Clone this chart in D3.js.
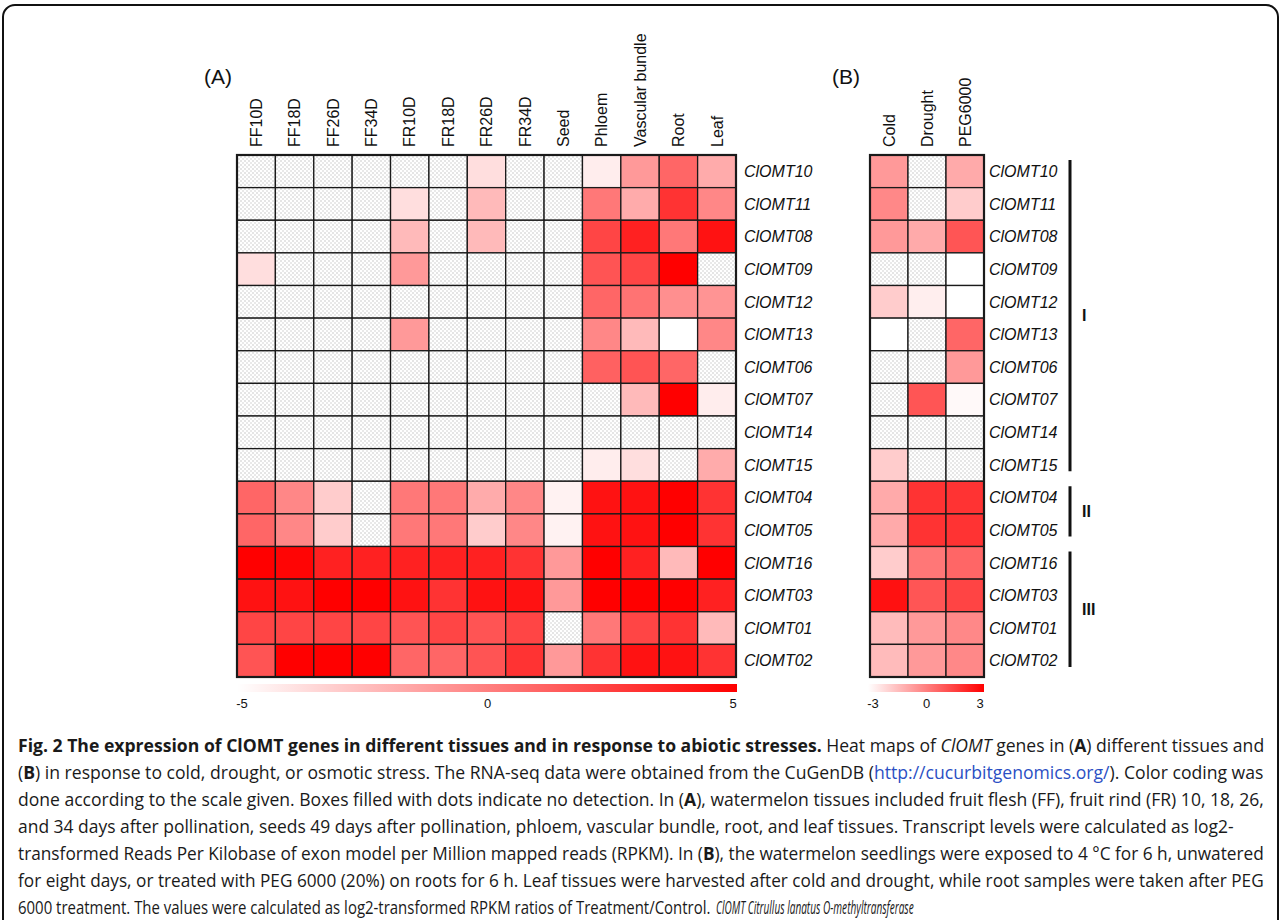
<!DOCTYPE html>
<html><head><meta charset="utf-8">
<script src="https://cdn.jsdelivr.net/npm/d3@7"></script>
<style>
html,body{margin:0;padding:0;background:#fff;}
svg{display:block;}
</style></head>
<body>
<svg id="chart" width="1281" height="920"></svg>
<script>
// ---------------- data ----------------
const genes = ["ClOMT10","ClOMT11","ClOMT08","ClOMT09","ClOMT12","ClOMT13","ClOMT06","ClOMT07","ClOMT14","ClOMT15","ClOMT04","ClOMT05","ClOMT16","ClOMT03","ClOMT01","ClOMT02"];
const tissues = ["FF10D","FF18D","FF26D","FF34D","FR10D","FR18D","FR26D","FR34D","Seed","Phloem","Vascular bundle","Root","Leaf"];
const stresses = ["Cold","Drought","PEG6000"];
const N = null; // no detection
// log2 RPKM, rows follow genes, columns follow tissues
const tissueValues = [
  [N,N,N,N,N,N,-3.7,N,N,-4.3,-1,1,-1.7],
  [N,N,N,N,-3.7,N,-2.3,N,N,0.3,-1.7,3,-0.3],
  [N,N,N,N,-2.3,N,-2.3,N,N,2.3,3.7,0.3,4.3],
  [-3.7,N,N,N,-1,N,N,N,N,1.7,2.3,5,N],
  [N,N,N,N,N,N,N,N,N,1,0.5,-0.6,-0.8],
  [N,N,N,N,-1,N,N,N,N,-0.3,-2.3,-5,-0.3],
  [N,N,N,N,N,N,N,N,N,1.2,1.7,1,N],
  [N,N,N,N,N,N,N,N,N,N,-2.3,5,-4.3],
  [N,N,N,N,N,N,N,N,N,N,N,N,N],
  [N,N,N,N,N,N,N,N,N,-4.3,-3.7,N,-1.7],
  [1,-0.3,-3,N,0.3,0.3,-1.7,-0.3,-4.5,4.3,4.3,5,3],
  [1,-0.3,-3,N,0.3,0.3,-3,-0.3,-4.5,4.3,4.3,5,3],
  [5,4.8,3.7,3.7,3.7,3.7,3.7,3,-1,5,3.7,-2.3,5],
  [4.3,4.3,5,5,4.3,3,4.3,4.3,-1,5,5,5,3.7],
  [2.3,2.3,2.3,2.3,1.7,2.3,1.7,2.3,N,0.3,2.3,3,-2.3],
  [1.7,5,5,5,1,1,1.7,3,-1,3,4.3,4.3,3]
];
// log2 ratio Treatment/Control, rows follow genes, columns follow stresses
const stressValues = [
  [-0.6,N,-1],
  [-0.2,N,-1.8],
  [-0.6,-1,1],
  [N,N,-3],
  [-1.8,-2.6,-3],
  [-3,N,0.6],
  [N,N,-0.6],
  [N,1,-2.85],
  [N,N,N],
  [-1.8,N,N],
  [-1,1.8,1.8],
  [-1,1.8,1.8],
  [-1.8,0.2,0.6],
  [2.6,1,1.4],
  [-1.4,-0.6,-0.2],
  [-1.4,-0.6,-0.2]
];
const legendTicksA = [-5,0,5];
const legendTicksB = [-3,0,3];
const groupLabels = ["I","II","III"];
const groupStart = [0,10,12];
const groupEnd = [9,11,15];
const captionLines = [
  [["Fig. 2 The expression of ClOMT genes in different tissues and in response to abiotic stresses.","b"],[" Heat maps of ","r"],["ClOMT","i"],[" genes in (","r"],["A","b"],[") different tissues and","r"]],
  [["(","r"],["B","b"],[") in response to cold, drought, or osmotic stress. The RNA-seq data were obtained from the CuGenDB (","r"],["http://cucurbitgenomics.org/","l"],["). Color coding was","r"]],
  [["done according to the scale given. Boxes filled with dots indicate no detection. In (","r"],["A","b"],["), watermelon tissues included fruit flesh (FF), fruit rind (FR) 10, 18, 26,","r"]],
  [["and 34 days after pollination, seeds 49 days after pollination, phloem, vascular bundle, root, and leaf tissues. Transcript levels were calculated as log2-","r"]],
  [["transformed Reads Per Kilobase of exon model per Million mapped reads (RPKM). In (","r"],["B","b"],["), the watermelon seedlings were exposed to 4 °C for 6 h, unwatered","r"]],
  [["for eight days, or treated with PEG 6000 (20%) on roots for 6 h. Leaf tissues were harvested after cold and drought, while root samples were taken after PEG","r"]],
  [["6000 treatment. The values were calculated as log2-transformed RPKM ratios of Treatment/Control.","r"]]
];
const captionTail = "ClOMT Citrullus lanatus O-methyltransferase";
const captionWidths = [1247,1247,1247,1217,1247,1247,693];

// ---------------- drawing ----------------
const svg = d3.select("#chart");
const font = "'Liberation Sans', Arial, Helvetica, sans-serif";

// frame
svg.append("rect").attr("x",3).attr("y",5).attr("width",1275).attr("height",960)
  .attr("rx",12).attr("ry",12).attr("fill","none").attr("stroke","#111").attr("stroke-width",2);

const defs = svg.append("defs");
const pat = defs.append("pattern").attr("id","dots").attr("patternUnits","userSpaceOnUse")
  .attr("width",4).attr("height",4);
pat.append("rect").attr("width",4).attr("height",4).attr("fill","#fff");
pat.append("rect").attr("x",0.5).attr("y",0.5).attr("width",1).attr("height",1).attr("fill","#9a9a9a");
pat.append("rect").attr("x",2.5).attr("y",2.5).attr("width",1).attr("height",1).attr("fill","#a8a8a8");

const y = d3.scaleBand().domain(genes).range([155,677]).paddingInner(0);
const xA = d3.scaleBand().domain(tissues).range([237,736]).paddingInner(0);
const xB = d3.scaleBand().domain(stresses).range([870,984]).paddingInner(0);
const colA = d3.scaleLinear().domain([-5,5]).range(["#ffffff","#ff0000"]).clamp(true);
const colB = d3.scaleLinear().domain([-3,3]).range(["#ffffff","#ff0000"]).clamp(true);

function heat(x, cols, vals, col, labelX, panelLabel, panelX){
  const g = svg.append("g");
  const cells = [];
  vals.forEach((row,i)=>row.forEach((v,j)=>cells.push({gene:genes[i],c:cols[j],v})));
  g.selectAll("rect.cell").data(cells).join("rect").attr("class","cell")
    .attr("x",d=>x(d.c)).attr("y",d=>y(d.gene))
    .attr("width",x.bandwidth()).attr("height",y.bandwidth())
    .attr("fill",d=>d.v===null?"url(#dots)":col(d.v))
    .attr("stroke","#1a1a1a").attr("stroke-width",1.3);
  g.append("rect").attr("x",x.range()[0]).attr("y",y.range()[0])
    .attr("width",x.range()[1]-x.range()[0]).attr("height",y.range()[1]-y.range()[0])
    .attr("fill","none").attr("stroke","#1a1a1a").attr("stroke-width",2.2);
  // column labels
  g.selectAll("text.col").data(cols).join("text").attr("class","col")
    .attr("transform",d=>`translate(${x(d)+x.bandwidth()/2},147) rotate(-90)`)
    .attr("dy","0.36em").attr("font-family",font).attr("font-size",16).attr("fill","#111")
    .text(d=>d);
  // row labels
  g.selectAll("text.row").data(genes).join("text").attr("class","row")
    .attr("x",labelX).attr("y",d=>y(d)+y.bandwidth()/2).attr("dy","0.36em")
    .attr("font-family",font).attr("font-size",16).attr("font-style","italic").attr("fill","#111")
    .text(d=>d);
  svg.append("text").attr("x",panelX).attr("y",84).attr("font-family",font).attr("font-size",21)
    .attr("fill","#111").text(panelLabel);
}
heat(xA, tissues, tissueValues, colA, 744, "(A)", 204);
heat(xB, stresses, stressValues, colB, 989, "(B)", 832);

// group brackets
groupLabels.forEach((lab,k)=>{
  const y0 = y(genes[groupStart[k]])+5, y1 = y(genes[groupEnd[k]])+y.bandwidth()-10;
  svg.append("line").attr("x1",1070).attr("x2",1070).attr("y1",y0).attr("y2",y1)
    .attr("stroke","#111").attr("stroke-width",3);
  svg.append("text").attr("x",1082).attr("y",(y0+y1)/2).attr("dy","0.36em")
    .attr("font-family",font).attr("font-size",16).attr("font-weight","bold").attr("fill","#111").text(lab);
});

// legends
function legend(x0,x1,ticks,id){
  const lg = defs.append("linearGradient").attr("id",id);
  lg.append("stop").attr("offset","0%").attr("stop-color","#ffffff");
  lg.append("stop").attr("offset","100%").attr("stop-color","#ff0000");
  svg.append("rect").attr("x",x0).attr("y",684).attr("width",x1-x0).attr("height",8).attr("fill",`url(#${id})`);
  const s = d3.scaleLinear().domain([ticks[0],ticks[ticks.length-1]]).range([x0+5,x1-4]);
  svg.selectAll(null).data(ticks).join("text")
    .attr("x",d=>s(d)).attr("y",708).attr("text-anchor","middle")
    .attr("font-family",font).attr("font-size",13).attr("fill","#111").text(d=>d);
}
legend(237,737,legendTicksA,"gradA");
legend(868,984,legendTicksB,"gradB");

// caption: condensed look via horizontal scaling of each line to its measured width
const capFont = "'Open Sans', 'Noto Sans', sans-serif";
function makeText(segs){
  const g = svg.append("g");
  const t = g.append("text").attr("x",0).attr("y",0)
    .attr("font-family",capFont).attr("font-size",18.5).attr("fill","#1a1a1a");
  segs.forEach(([s,st])=>{
    const ts = t.append("tspan").text(s);
    if(st==="b") ts.attr("font-weight","bold");
    if(st==="i") ts.attr("font-style","italic");
    if(st==="l") ts.attr("fill","#2b4fc4");
  });
  return {g, t, nat: t.node().getComputedTextLength()};
}
const built = captionLines.map(makeText);
const lastI = captionLines.length-1;
built.forEach((b,i)=>{
  b.g.attr("transform",`translate(18,${752+i*27}) scale(${captionWidths[i]/b.nat},1)`);
});
// italic tail of the last line (condensed italic in the original)
const tailX = 18 + captionWidths[lastI] + 5;
const tail = makeText([[captionTail,"i"]]);
tail.g.attr("transform",`translate(${tailX},${752+lastI*27}) scale(${(914-tailX)/tail.nat},1)`);
</script>
</body></html>
